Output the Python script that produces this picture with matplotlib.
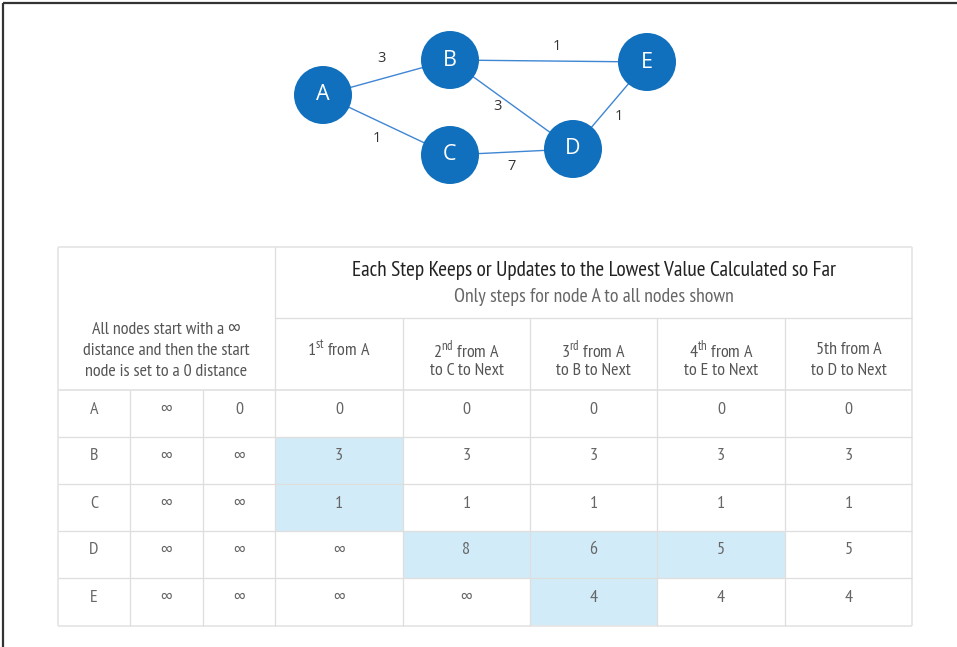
import matplotlib
matplotlib.use("Agg")
import matplotlib.pyplot as plt
from matplotlib import font_manager
from matplotlib.patches import Rectangle, Circle

# ---------------- data ----------------
nodes = ["A", "B", "C", "D", "E"]
edges = [("A", "B"), ("A", "C"), ("B", "E"), ("B", "D"), ("C", "D"), ("D", "E")]
weights = [3, 1, 1, 3, 7, 1]

row_labels = ["A", "B", "C", "D", "E"]
init_inf = ["∞", "∞", "∞", "∞", "∞"]
init_start = ["0", "∞", "∞", "∞", "∞"]
step1 = ["0", "3", "1", "∞", "∞"]
step2 = ["0", "3", "1", "8", "∞"]
step3 = ["0", "3", "1", "6", "4"]
step4 = ["0", "3", "1", "5", "4"]
step5 = ["0", "3", "1", "5", "4"]
steps = [step1, step2, step3, step4, step5]
# cells updated in each step (highlighted)
updated1 = ["B", "C"]
updated2 = ["D"]
updated3 = ["D", "E"]
updated4 = ["D"]
updated5 = []
updated = [updated1, updated2, updated3, updated4, updated5]

title = "Each Step Keeps or Updates to the Lowest Value Calculated so Far"
subtitle = "Only steps for node A to all nodes shown"
left_header = ["All nodes start with a ∞", "distance and then the start", "node is set to a 0 distance"]
step_headers = [
    [("1", "st", " from A")],
    [("2", "nd", " from A"), ("", "", "to C to Next")],
    [("3", "rd", " from A"), ("", "", "to B to Next")],
    [("4", "th", " from A"), ("", "", "to E to Next")],
    [("5th from A", "", ""), ("", "", "to D to Next")],
]

# ---------------- layout ----------------
W, H = 957, 647
node_pos = {"A": (323, 95), "B": (450, 60), "C": (450, 155), "D": (573, 149), "E": (647, 62)}
node_r = 29
weight_pos = [(381, 59), (377, 138), (557, 47), (498, 106), (512, 166), (619, 117)]
col_edges = [58, 130, 203, 275, 403, 530, 657, 785, 912]
row_edges = [247, 318, 390, 437, 484, 531, 578, 626]

names = {f.name for f in font_manager.fontManager.ttflist}

def pick(cands, default):
    for c in cands:
        if c in names:
            return c
    return default

narrow = pick(["PT Sans Narrow", "Open Sans Condensed", "Roboto Condensed", "Fira Sans Condensed",
               "Asap Condensed", "Barlow Semi Condensed"], "Liberation Sans")
regular = pick(["Open Sans", "PT Sans", "Noto Sans"], "DejaVu Sans")
FN = [narrow, "DejaVu Sans"]
FR = [regular, "DejaVu Sans"]
plt.rcParams["mathtext.fontset"] = "custom"
plt.rcParams["mathtext.rm"] = narrow

fig = plt.figure(figsize=(W / 100, H / 100), dpi=100)
ax = fig.add_axes([0, 0, 1, 1])
ax.set_xlim(0, W)
ax.set_ylim(H, 0)
ax.axis("off")

# frame (top and left only)
ax.plot([2.5, W], [2.5, 2.5], color="#333333", lw=1.6, solid_capstyle="butt")
ax.plot([2.5, 2.5], [2.5, H], color="#333333", lw=1.6, solid_capstyle="butt")

# ---------------- graph ----------------
edge_color = "#3f86d3"
node_color = "#1170bd"
for (u, v), w, (lx, ly) in zip(edges, weights, weight_pos):
    (x1, y1), (x2, y2) = node_pos[u], node_pos[v]
    ax.plot([x1, x2], [y1, y2], color=edge_color, lw=1.0, zorder=1)
    ax.text(lx, ly, str(w), ha="center", va="center", fontsize=10.5,
            family=FR, color="#333333", zorder=3)
for n in nodes:
    x, y = node_pos[n]
    ax.add_patch(Circle((x, y), node_r, facecolor=node_color, edgecolor="none", zorder=2))
    ax.text(x, y, n, ha="center", va="center", fontsize=15.5, family=FR,
            color="white", zorder=3)

# ---------------- table ----------------
hl_color = "#d2ebf8"
line_color = "#dedede"
data_rows_top = row_edges[2:]
for si, (vals, upd) in enumerate(zip(steps, updated)):
    c0, c1 = col_edges[3 + si], col_edges[4 + si]
    for ri, r in enumerate(row_labels):
        if r in upd:
            ax.add_patch(Rectangle((c0, data_rows_top[ri]), c1 - c0,
                                   data_rows_top[ri + 1] - data_rows_top[ri],
                                   facecolor=hl_color, edgecolor="none", zorder=1))

def hline(y, x0, x1, c=line_color, lw=0.9):
    ax.plot([x0, x1], [y, y], color=c, lw=lw, zorder=2, solid_capstyle="butt")

def vline(x, y0, y1, c=line_color, lw=0.9):
    ax.plot([x, x], [y0, y1], color=c, lw=lw, zorder=2, solid_capstyle="butt")

L, R = col_edges[0], col_edges[-1]
T, B = row_edges[0], row_edges[-1]
hline(T, L, R, c="#e6e6e6", lw=1.3)
hline(B, L, R, c="#e6e6e6", lw=1.3)
vline(L, T, B, c="#e6e6e6", lw=1.3)
vline(R, T, B, c="#e6e6e6", lw=1.3)
hline(row_edges[1], col_edges[3], R)
hline(row_edges[2], L, R, c="#e3e3e3", lw=1.3)
vline(col_edges[3], T, B)
for x in col_edges[4:-1]:
    vline(x, row_edges[1], B)
for x in col_edges[1:3]:
    vline(x, row_edges[2], B)
for y in row_edges[3:-1]:
    hline(y, L, R)

# title
tx = (col_edges[3] + R) / 2
ax.text(tx, 270.5, title, ha="center", va="center", fontsize=15.4, family=FN, color="#222222")
ax.text(tx, 297.5, subtitle, ha="center", va="center", fontsize=14.3, family=FN, color="#666666")

# left header
lx = (L + col_edges[3]) / 2
for i, line in enumerate(left_header):
    ax.text(lx, 330 + 21 * i, line, ha="center", va="center", fontsize=13, family=FN,
            color="#555555")

# step headers
for si, lines in enumerate(step_headers):
    cx = (col_edges[3 + si] + col_edges[4 + si]) / 2
    for li, (a, sup, b) in enumerate(lines):
        s = a + (r"$^{\mathrm{" + sup + "}}$" if sup else "") + b
        ax.text(cx, 350 + 21 * li, s, ha="center", va="center", fontsize=13, family=FN,
                color="#555555")

# data rows
cols = [row_labels, init_inf, init_start] + steps
for ci, vals in enumerate(cols):
    cx = (col_edges[ci] + col_edges[ci + 1]) / 2
    for ri, v in enumerate(vals):
        cy = (data_rows_top[ri] + data_rows_top[ri + 1]) / 2 - 4
        fs = 13 if v != "∞" else 12
        ax.text(cx, cy, v, ha="center", va="center", fontsize=fs, family=FN, color="#666666")

fig.savefig("out.png", dpi=100)
